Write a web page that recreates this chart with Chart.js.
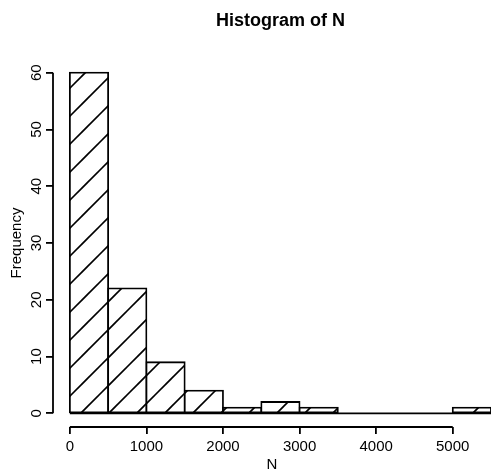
<!DOCTYPE html>
<html>
<head>
<meta charset="utf-8">
<script src="https://cdn.jsdelivr.net/npm/chart.js@4.4.1/dist/chart.umd.min.js"></script>
<style>
  html, body { margin: 0; padding: 0; background: #fff; overflow: hidden; }
</style>
</head>
<body>
<canvas id="myChart" width="491" height="473"></canvas>
<script>
// histogram data
const binEdges = [0, 500, 1000, 1500, 2000, 2500, 3000, 3500, 4000, 4500, 5000, 5500];
const counts = [60, 22, 9, 4, 1, 2, 1, 0, 0, 0, 1];
const xTicks = [0, 1000, 2000, 3000, 4000, 5000];
const yTicks = [0, 10, 20, 30, 40, 50, 60];
const mainTitle = 'Histogram of N';
const xTitle = 'N';
const yTitle = 'Frequency';

const FONT = '"Liberation Sans", Arial, Helvetica, sans-serif';
const LW = 1.8;

// R style axis limits: data range plus 4% on both sides
const xRange = [binEdges[0], binEdges[binEdges.length - 1]];
const yRange = [0, Math.max(...counts)];
const xPad = (xRange[1] - xRange[0]) * 0.04;
const yPad = (yRange[1] - yRange[0]) * 0.04;

const makeHatch = () => {
    const size = 28;
    const c = document.createElement('canvas');
    c.width = size;
    c.height = size;
    const g = c.getContext('2d');
    g.fillStyle = '#fff';
    g.fillRect(0, 0, size, size);
    g.strokeStyle = '#000';
    g.lineWidth = 1.6;
    [-10, 18, 46].forEach(k => {
        g.beginPath();
        g.moveTo(k + 10, -10);
        g.lineTo(-10, k + 10);
        g.stroke();
    });
    return g.createPattern(c, 'repeat');
};

const bars = counts.map((v, i) => ({ x: (binEdges[i] + binEdges[i + 1]) / 2, y: v }));
const baseline = [{ x: xRange[0], y: 0 }, { x: xRange[1], y: 0 }];

// axis lines only between first and last tick, plus the main title
const rAxes = {
    id: 'rAxes',
    afterDraw(chart) {
        const { ctx, chartArea, scales: { x, y } } = chart;
        ctx.save();
        ctx.strokeStyle = '#000';
        ctx.lineWidth = LW;
        ctx.beginPath();
        ctx.moveTo(x.getPixelForValue(xTicks[0]), chartArea.bottom);
        ctx.lineTo(x.getPixelForValue(xTicks[xTicks.length - 1]), chartArea.bottom);
        ctx.moveTo(chartArea.left, y.getPixelForValue(yTicks[0]));
        ctx.lineTo(chartArea.left, y.getPixelForValue(yTicks[yTicks.length - 1]));
        ctx.stroke();

        ctx.fillStyle = '#000';
        ctx.font = 'bold 18px ' + FONT;
        ctx.textAlign = 'center';
        ctx.textBaseline = 'middle';
        ctx.fillText(mainTitle, x.getPixelForValue((xRange[0] + xRange[1]) / 2), 21);
        ctx.restore();
    }
};

const tickFont = { family: FONT, size: 15 };

new Chart(document.getElementById('myChart').getContext('2d'), {
    type: 'bar',
    data: {
        datasets: [{
            type: 'line',
            data: baseline,
            borderColor: '#000',
            borderWidth: LW,
            pointRadius: 0,
            order: 2
        }, {
            data: bars,
            backgroundColor: makeHatch(),
            borderColor: '#000',
            borderWidth: LW,
            borderSkipped: false,
            inflateAmount: LW / 2,
            barPercentage: 1,
            categoryPercentage: 1,
            order: 1
        }]
    },
    options: {
        responsive: false,
        animation: false,
        layout: { padding: { top: 59, left: 0, right: 0, bottom: 0 } },
        plugins: {
            legend: { display: false },
            tooltip: { enabled: false }
        },
        scales: {
            x: {
                type: 'linear',
                offset: false,
                min: xRange[0] - xPad,
                max: xRange[1],
                afterBuildTicks: (s) => { s.ticks = xTicks.map(v => ({ value: v })); },
                afterFit: (s) => { s.height = 46; },
                grid: { offset: false, drawOnChartArea: false, drawTicks: true, tickLength: 7, color: '#000', lineWidth: LW },
                border: { display: false },
                ticks: { autoSkip: false, maxRotation: 0, color: '#000', font: tickFont, padding: 4, callback: (v) => String(v) },
                title: { display: true, text: xTitle, color: '#000', font: tickFont, padding: { top: 0, bottom: -1 } }
            },
            y: {
                type: 'linear',
                min: yRange[0] - yPad,
                max: yRange[1] + yPad,
                afterBuildTicks: (s) => { s.ticks = yTicks.map(v => ({ value: v })); },
                afterFit: (s) => { s.width = 53; },
                grid: { drawOnChartArea: false, drawTicks: true, tickLength: 7, color: '#000', lineWidth: LW },
                border: { display: false },
                ticks: { autoSkip: false, minRotation: 90, maxRotation: 90, crossAlign: 'center', color: '#000', font: tickFont, padding: 1, callback: (v) => String(v) },
                title: { display: true, text: yTitle, color: '#000', font: tickFont, padding: { top: 8, bottom: 0 } }
            }
        }
    },
    plugins: [rAxes]
});
</script>
</body>
</html>
